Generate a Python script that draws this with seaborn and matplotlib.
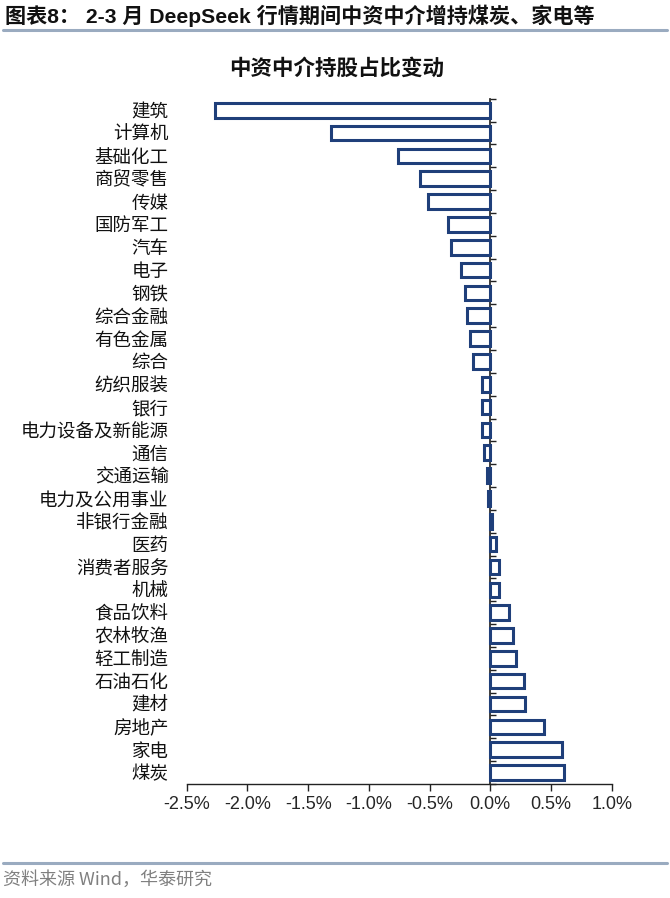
import matplotlib
matplotlib.use("Agg")
import matplotlib.pyplot as plt
from matplotlib.lines import Line2D
from matplotlib.ticker import FuncFormatter, FixedLocator
import seaborn as sns
import pandas as pd

categories = ["建筑", "计算机", "基础化工", "商贸零售", "传媒", "国防军工", "汽车", "电子",
              "钢铁", "综合金融", "有色金属", "综合", "纺织服装", "银行", "电力设备及新能源",
              "通信", "交通运输", "电力及公用事业", "非银行金融", "医药", "消费者服务", "机械",
              "食品饮料", "农林牧渔", "轻工制造", "石油石化", "建材", "房地产", "家电", "煤炭"]
values = [-2.27, -1.31, -0.76, -0.58, -0.51, -0.35, -0.32, -0.24,
          -0.21, -0.19, -0.17, -0.14, -0.07, -0.07, -0.07,
          -0.05, -0.03, -0.015, 0.015, 0.05, 0.07, 0.07,
          0.155, 0.19, 0.21, 0.28, 0.29, 0.445, 0.59, 0.61]
xticks = [-2.5, -2.0, -1.5, -1.0, -0.5, 0.0, 0.5, 1.0]

header = "图表8： 2-3 月 DeepSeek 行情期间中资中介增持煤炭、家电等"
title = "中资中介持股占比变动"
source = "资料来源 Wind，华泰研究"

sns.set_theme(style="white")
plt.rcParams['font.family'] = ['Noto Sans CJK SC', 'DejaVu Sans']
plt.rcParams['axes.unicode_minus'] = False

navy = "#1F3F7A"
df = pd.DataFrame({"cat": categories, "val": values})

fig = plt.figure(figsize=(6.7, 8.98), dpi=100)
ax = fig.add_axes([0.2787, 0.127, 0.913 - 0.2787, 0.890 - 0.127])

sns.barplot(data=df, x="val", y="cat", orient="h", ax=ax, color="white",
            edgecolor=navy, linewidth=2.2, width=0.64, saturation=1)

ax.set_xlim(-2.5, 1.0)
ax.set_ylim(len(categories) - 0.5, -0.5)
ax.set_xlabel("")
ax.set_ylabel("")
ax.xaxis.set_major_locator(FixedLocator(xticks))
ax.xaxis.set_major_formatter(FuncFormatter(lambda v, p: f"{v:.1f}%"))
for lab in ax.get_xticklabels():
    lab.set_family(['Liberation Sans', 'DejaVu Sans'])
    lab.set_fontsize(13)
ax.tick_params(axis="x", direction="out", length=5, width=1, color="#222222", pad=4,
               bottom=True)
ax.tick_params(axis="y", length=0, pad=13, labelsize=13.3, labelcolor="#111111")
for s in ["top", "right", "left"]:
    ax.spines[s].set_visible(False)
ax.spines["bottom"].set_color("#222222")
ax.spines["bottom"].set_linewidth(1)
ax.grid(False)

# vertical axis line at zero with tick marks between categories
sec = ax.secondary_yaxis(2.5 / 3.5)
sec.set_yticks([i + 0.5 for i in range(-1, len(categories))])
sec.set_yticklabels([])
sec.tick_params(axis="y", direction="out", length=4, width=1, color="#222222")
sec.spines["left"].set_color("#222222")
sec.spines["left"].set_linewidth(1)

# header, title, footer
fig.text(0.007, 0.982, header, fontsize=15.2, fontweight="bold", va="center", ha="left",
         family=['Liberation Sans', 'Noto Sans CJK SC'], color="#111111")
fig.add_artist(Line2D([0.005, 0.995], [0.9666, 0.9666], color="#9AABC0", lw=2.2,
                      transform=fig.transFigure))
fig.text(0.502, 0.924, title, fontsize=15.5, fontweight="bold", ha="center", va="center",
         color="#111111")
fig.add_artist(Line2D([0.005, 0.995], [0.0393, 0.0393], color="#9AABC0", lw=2.2,
                      transform=fig.transFigure))
fig.text(0.005, 0.02, source, fontsize=13, ha="left", va="center", color="#808080",
         family=['Noto Sans CJK SC', 'DejaVu Sans'])

fig.savefig("out.png", dpi=100)
